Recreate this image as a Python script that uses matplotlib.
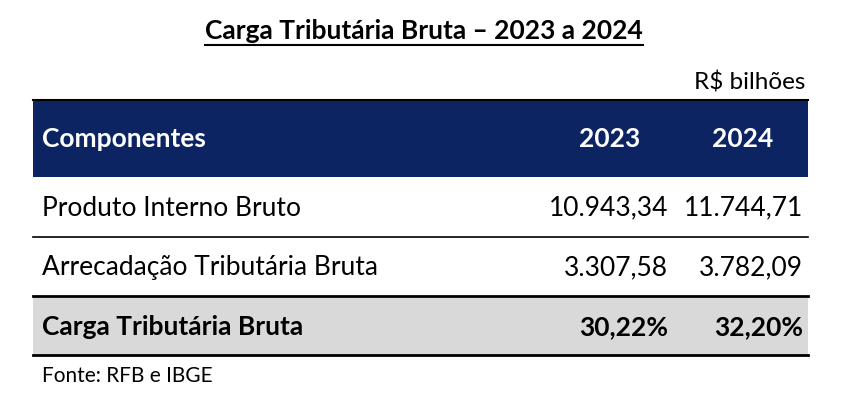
import matplotlib
matplotlib.use("Agg")
import matplotlib.pyplot as plt
from matplotlib.patches import Rectangle
from matplotlib.lines import Line2D

title = "Carga Tributária Bruta – 2023 a 2024"
unit = "R$ bilhões"
header = ["Componentes", "2023", "2024"]
rows = ["Produto Interno Bruto", "Arrecadação Tributária Bruta", "Carga Tributária Bruta"]
v2023 = ["10.943,34", "3.307,58", "30,22%"]
v2024 = ["11.744,71", "3.782,09", "32,20%"]
source = "Fonte: RFB e IBGE"

W, H = 848, 413
fig = plt.figure(figsize=(W/100, H/100), dpi=100)
ax = fig.add_axes([0, 0, 1, 1])
ax.set_xlim(0, W); ax.set_ylim(H, 0); ax.axis("off")
FONT = "Lato"
navy = "#0c2461"
FS = 19

t = ax.text(424, 31, title, ha="center", va="center", fontsize=19, fontweight="bold", family=FONT)
fig.canvas.draw()
bb = t.get_window_extent().transformed(ax.transData.inverted())
ax.add_line(Line2D([bb.x0, bb.x1], [45, 45], color="black", lw=1.5))

ax.text(805, 83, unit, ha="right", va="center", fontsize=17.5, family=FONT)
ax.add_patch(Rectangle((33, 100), 775, 77, color=navy, lw=0))
ax.add_line(Line2D([33, 808], [100, 100], color="black", lw=1.5))
ax.text(42, 139, header[0], ha="left", va="center", fontsize=FS, fontweight="bold", color="white", family=FONT)
ax.text(640, 139, header[1], ha="right", va="center", fontsize=FS, fontweight="bold", color="white", family=FONT)
ax.text(773, 139, header[2], ha="right", va="center", fontsize=FS, fontweight="bold", color="white", family=FONT)

ax.add_patch(Rectangle((33, 296), 775, 59, color="#d9d9d9", lw=0))
for y, lw in [(237, 1.2), (296, 2.0), (355, 2.0)]:
    ax.add_line(Line2D([33, 808], [y, y], color="black", lw=lw))

ys = [208, 268, 327]
for i, y in enumerate(ys):
    w = "bold" if i == 2 else "normal"
    ax.text(42, y, rows[i], ha="left", va="center", fontsize=FS, fontweight=w, family=FONT)
    ax.text(668, y, v2023[i], ha="right", va="center", fontsize=FS, fontweight=w, family=FONT)
    ax.text(803, y, v2024[i], ha="right", va="center", fontsize=FS, fontweight=w, family=FONT)

ax.text(42, 376, source, ha="left", va="center", fontsize=15, family=FONT)
fig.savefig("out.png", dpi=100)
